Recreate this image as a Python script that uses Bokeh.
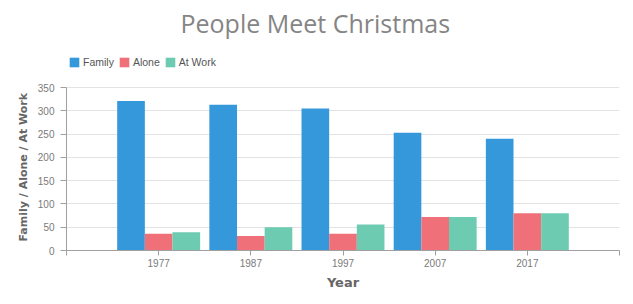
from bokeh.plotting import figure
from bokeh.models import (Legend, LegendItem, FixedTicker, Title, Label, Range1d,
                          ColumnDataSource)
from bokeh.transform import dodge
from bokeh.embed import file_html
from bokeh.resources import INLINE

# ---- data ----
years = [1977, 1987, 1997, 2007, 2017]
family = [321, 313, 305, 253, 240]
alone = [36, 31, 36, 72, 80]
at_work = [39, 50, 56, 72, 80]
series_names = ["Family", "Alone", "At Work"]
series_colors = ["#3498db", "#f0707a", "#6dcbb2"]
y_ticks = [0, 50, 100, 150, 200, 250, 300, 350]
title_text = "People Meet Christmas"
x_label = "Year"
y_label = "Family / Alone / At Work"

source = ColumnDataSource(dict(year=years, family=family, alone=alone, at_work=at_work))

# the frame extends up to the top of the figure so that the title and the
# legend can be drawn inside it; the value axis only covers 0..350
y_max = y_ticks[-1]
y_view_top = 537

p = figure(width=627, height=296, output_backend="svg", toolbar_location=None,
           x_range=Range1d(years[0] - 10, years[-1] + 10),
           y_range=Range1d(0, y_view_top),
           min_border_left=66, min_border_right=8, min_border_top=0,
           min_border_bottom=46)
p.title.visible = False
p.outline_line_color = None
p.background_fill_color = "white"
p.border_fill_color = "white"

bar_w = 3
renderers = []
for i, (col, name, c) in enumerate(zip(["family", "alone", "at_work"], series_names, series_colors)):
    r = p.vbar(x=dodge("year", (i - 1) * bar_w, range=p.x_range), top=col,
               width=bar_w, source=source, fill_color=c, line_color=None)
    renderers.append((name, r))

# axes
xt = [years[0] - 10] + years + [years[-1] + 10]
p.xaxis.ticker = FixedTicker(ticks=xt)
p.xaxis.major_label_overrides = {xt[0]: "", xt[-1]: ""}
p.yaxis.ticker = FixedTicker(ticks=y_ticks)
p.yaxis.bounds = (0, y_max)
for ax in (p.xaxis, p.yaxis):
    ax.axis_line_color = "#a0a0a0"
    ax.major_tick_line_color = "#a0a0a0"
    ax.minor_tick_line_color = None
    ax.major_tick_in = 0
    ax.major_label_text_color = "#7a7a7a"
    ax.major_label_text_font = "Liberation Sans"
    ax.major_label_text_font_size = "10px"
p.xaxis.major_tick_out = 5
p.yaxis.major_tick_out = 6
p.xaxis.major_label_standoff = 3
p.yaxis.major_label_standoff = 6
p.xaxis.axis_label = x_label
p.xaxis.axis_label_text_font = "DejaVu Sans"
p.xaxis.axis_label_text_font_style = "bold"
p.xaxis.axis_label_text_color = "#666666"
p.xaxis.axis_label_text_font_size = "13px"
p.xaxis.axis_label_standoff = 5

# y axis title, placed along the 0..350 part of the axis
ytitle = Title(text=y_label, align="left", offset=9, standoff=10,
               text_font="DejaVu Sans", text_font_style="bold",
               text_font_size="11px", text_color="#666666")
p.add_layout(ytitle, "left")

p.xgrid.grid_line_color = None
p.ygrid.grid_line_color = "#e3e3e3"

# legend
legend = Legend(items=[LegendItem(label=n, renderers=[r]) for n, r in renderers],
                location=(2, 182), orientation="horizontal",
                glyph_width=12, glyph_height=12, label_standoff=3, spacing=4,
                padding=0, margin=0, border_line_color=None,
                background_fill_alpha=0,
                label_text_font="Liberation Sans", label_text_font_size="10.5px",
                label_text_color="#555555", label_height=12)
p.add_layout(legend, "center")

# chart title
title = Label(x=114, y=228, x_units="screen", y_units="screen",
              text=title_text, text_align="left", text_baseline="alphabetic",
              text_font="Open Sans", text_font_size="25px", text_color="#858585")
p.add_layout(title)

open("out.html", "w").write(file_html(p, INLINE))
